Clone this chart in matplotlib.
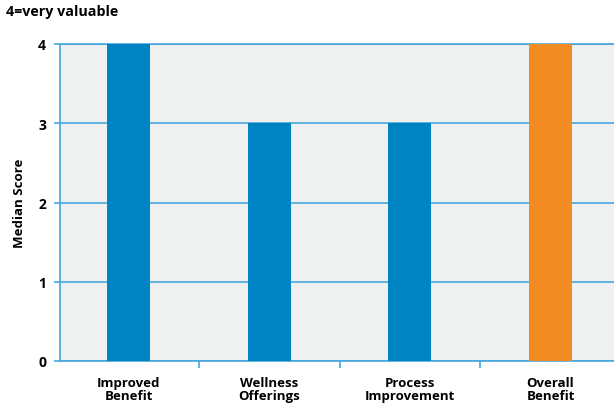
import matplotlib
matplotlib.use("Agg")
import matplotlib.pyplot as plt

categories = ["Improved\nBenefit", "Wellness\nOfferings", "Process\nImprovement", "Overall\nBenefit"]
values = [4, 3, 3, 4]
colors = ["#0083c2", "#0083c2", "#0083c2", "#f28c22"]
yticks = [0, 1, 2, 3, 4]

plt.rcParams['font.family'] = ['Open Sans', 'DejaVu Sans']
plt.rcParams['font.weight'] = 'bold'

fig = plt.figure(figsize=(6.14, 4.06), dpi=100)
ax = fig.add_axes([60/614, 1-362/406, 1-60/614, (362-45)/406])
ax.set_facecolor("#eff0f0")
line_c = "#47a6dc"

x = list(range(len(categories)))
ax.bar(x, values, width=0.306, color=colors, zorder=3)
ax.set_xlim(-0.487, 3.451)
ax.set_ylim(0, 4)
ax.set_yticks(yticks)
ax.set_yticklabels([str(v) for v in yticks], fontsize=10, fontweight='bold')
ax.yaxis.grid(True, color=line_c, linewidth=1.2, zorder=1)
ax.set_axisbelow(True)

ax.set_xticks(x)
ax.set_xticklabels(categories, fontsize=9.5, fontweight='bold', linespacing=1.0)
ax.tick_params(axis='x', length=0, pad=11)
ax.set_xticks([0.5, 1.5, 2.5], minor=True)
ax.tick_params(axis='x', which='minor', length=5, color=line_c, width=1.2)
ax.tick_params(axis='y', length=4, color=line_c, width=1.2, pad=6)

for s in ['left', 'bottom', 'top']:
    ax.spines[s].set_color(line_c)
    ax.spines[s].set_linewidth(1.2)
ax.spines['right'].set_visible(False)

ax.set_ylabel("Median Score", fontsize=9.5, fontweight='bold', labelpad=9)
fig.text(6/614, 1-12/406, "4=very valuable", fontsize=10.3, fontweight='bold', va='center', ha='left')

fig.savefig("out.png", dpi=100)
